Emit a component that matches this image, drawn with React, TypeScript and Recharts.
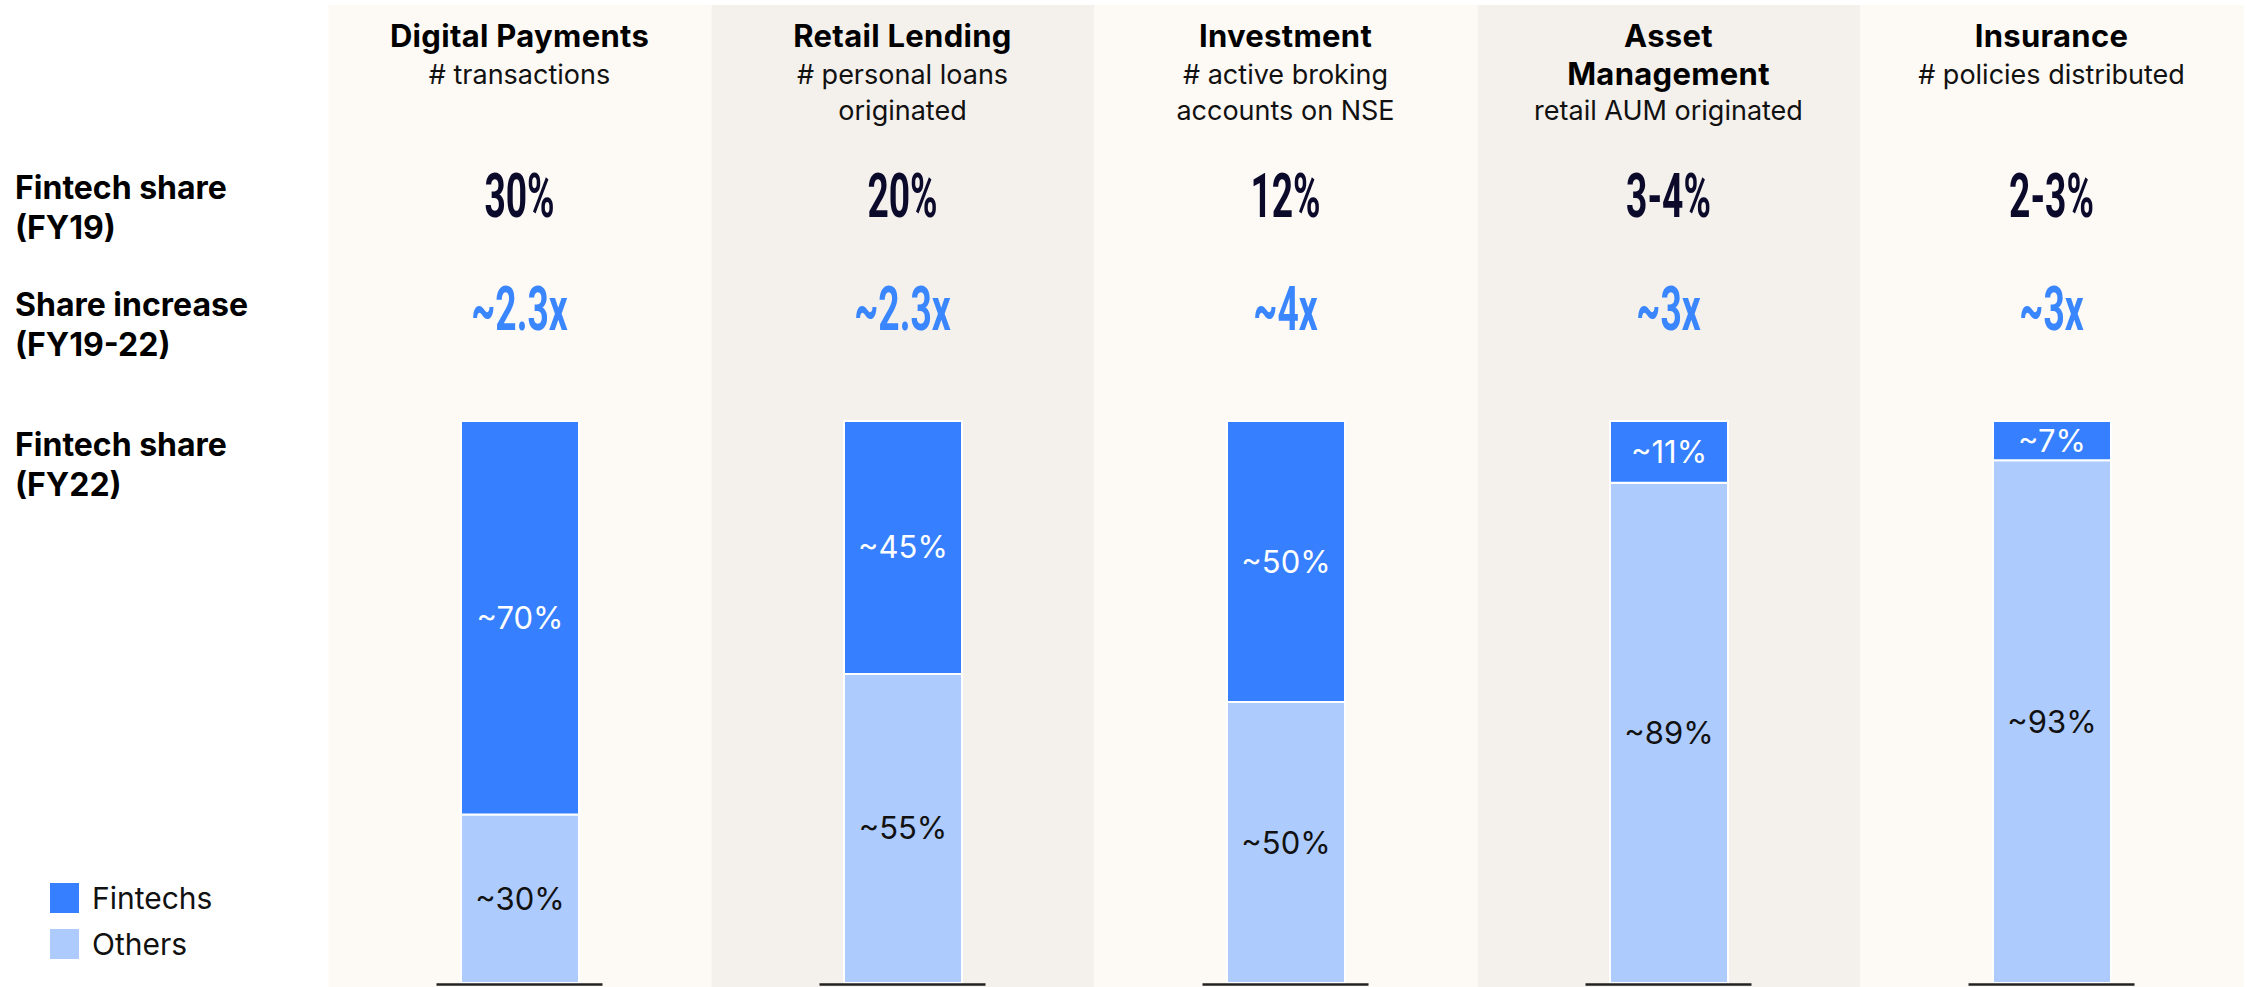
import { BarChart, Bar, XAxis, YAxis, LabelList, Legend } from 'recharts'

// categories (a "\n" breaks the column title onto two lines)
const categories = ['Digital Payments', 'Retail Lending', 'Investment', 'Asset\nManagement', 'Insurance']
const subtitles = [
  '# transactions',
  '# personal loans\noriginated',
  '# active broking\naccounts on NSE',
  'retail AUM originated',
  '# policies distributed',
]
const fy19Share = ['30%', '20%', '12%', '3-4%', '2-3%']
const shareIncrease = ['~2.3x', '~2.3x', '~4x', '~3x', '~3x']
const fintechs = [70, 45, 50, 11, 7]
const others = [30, 55, 50, 89, 93]
const rowLabels = [
  ['Fintech share', '(FY19)'],
  ['Share increase', '(FY19-22)'],
  ['Fintech share', '(FY22)'],
]

const data = categories.map((name, i) => ({ name, fintechs: fintechs[i], others: others[i] }))

const W = 2247
const H = 987
const MARGIN = { top: 5, right: 4, bottom: 0, left: 328 }
const HEADER_H = 416
const BAR_SIZE = 118
const BAND = (W - MARGIN.left - MARGIN.right) / categories.length

const BLUE = '#367FFE'
const LIGHT_BLUE = '#ADCBFD'
const COL_LIGHT = '#FDF9F5'
const COL_DARK = '#F4F0EC'
const NAVY = '#0B0A2A'
const TEXT_BLUE = '#3A86FF'
const FONT = 'Inter, "Noto Sans", sans-serif'

// full-height tinted column behind each bar
function ColumnBackground(props: any) {
  const { x, width, index } = props
  const pad = (BAND - width) / 2
  return (
    <rect
      x={x - pad}
      y={MARGIN.top}
      width={width + pad * 2}
      height={H - MARGIN.top}
      fill={index % 2 ? COL_DARK : COL_LIGHT}
    />
  )
}

function HeaderTick(props: any) {
  const { x, index } = props
  const titleLines = categories[index].split('\n')
  const subLines = subtitles[index].split('\n')
  const subStart = 84 + 36 * (titleLines.length - 1)
  return (
    <g>
      {titleLines.map((t, i) => (
        <text key={'t' + i} x={x} y={47 + 38 * i} textAnchor="middle" fontFamily={FONT} fontWeight={700} fontSize={31} letterSpacing={0.3} fill="#000">
          {t}
        </text>
      ))}
      {subLines.map((t, i) => (
        <text key={'s' + i} x={x} y={subStart + 36 * i} textAnchor="middle" fontFamily={FONT} fontSize={27} fill="#111">
          {t}
        </text>
      ))}
      <text
        transform={`translate(${x},217) scale(0.6,1)`}
        textAnchor="middle"
        fontFamily="Roboto, sans-serif"
        fontWeight={700}
        fontSize={62}
        fill={NAVY}
      >
        {fy19Share[index]}
      </text>
      <text
        transform={`translate(${x},330) scale(0.6,1)`}
        textAnchor="middle"
        fontFamily="Roboto, sans-serif"
        fontWeight={700}
        fontSize={62}
        fill={TEXT_BLUE}
      >
        {shareIncrease[index]}
      </text>
    </g>
  )
}

function BaseTick(props: any) {
  const { x } = props
  return <line x1={x - 83} x2={x + 83} y1={984.5} y2={984.5} stroke="#222" strokeWidth={2.5} />
}

function LegendContent() {
  const items = [
    { label: 'Fintechs', color: BLUE },
    { label: 'Others', color: LIGHT_BLUE },
  ]
  return (
    <div style={{ fontFamily: FONT, fontSize: 30, color: '#111' }}>
      {items.map((it) => (
        <div key={it.label} style={{ display: 'flex', alignItems: 'center', height: 46 }}>
          <span style={{ width: 29, height: 30, background: it.color, marginRight: 13, display: 'inline-block' }} />
          <span>{it.label}</span>
        </div>
      ))}
    </div>
  )
}

export default function App() {
  return (
    <div style={{ position: 'absolute', left: 0, top: 0, width: W, height: H, background: '#fff' }}>
      <style>{'body{margin:0}'}</style>
      {rowLabels.map((lines, r) => (
        <div
          key={r}
          style={{
            position: 'absolute',
            left: 15,
            top: [168, 285, 425][r],
            fontFamily: FONT,
            fontWeight: 700,
            fontSize: 32,
            lineHeight: '40px',
            color: '#000',
          }}
        >
          {lines.map((l) => (
            <div key={l}>{l}</div>
          ))}
        </div>
      ))}
      <BarChart width={W} height={H} data={data} margin={MARGIN}>
        <YAxis hide domain={[0, 100]} />
        <Bar
          dataKey="others"
          stackId="a"
          xAxisId="top"
          fill={LIGHT_BLUE}
          stroke="#fff"
          strokeWidth={2}
          barSize={BAR_SIZE}
          background={ColumnBackground}
          isAnimationActive={false}
        >
          <LabelList dataKey="others" position="center" formatter={(v: any) => `~${v}%`} fill="#111" fontSize={31} fontFamily={FONT} />
        </Bar>
        <Bar
          dataKey="fintechs"
          stackId="a"
          xAxisId="top"
          fill={BLUE}
          stroke="#fff"
          strokeWidth={2}
          barSize={BAR_SIZE}
          isAnimationActive={false}
        >
          <LabelList dataKey="fintechs" position="center" formatter={(v: any) => `~${v}%`} fill="#fff" fontSize={31} fontFamily={FONT} />
        </Bar>
        <XAxis
          xAxisId="top"
          dataKey="name"
          orientation="top"
          height={HEADER_H}
          axisLine={false}
          tickLine={false}
          interval={0}
          tick={HeaderTick}
        />
        <XAxis
          xAxisId="base"
          dataKey="name"
          orientation="bottom"
          height={4}
          axisLine={false}
          tickLine={false}
          interval={0}
          tick={BaseTick}
        />
        <Legend
          layout="vertical"
          align="center"
          verticalAlign="middle"
          content={LegendContent}
          wrapperStyle={{ left: 50, top: 875, width: 220, height: 92 }}
        />
      </BarChart>
    </div>
  )
}
